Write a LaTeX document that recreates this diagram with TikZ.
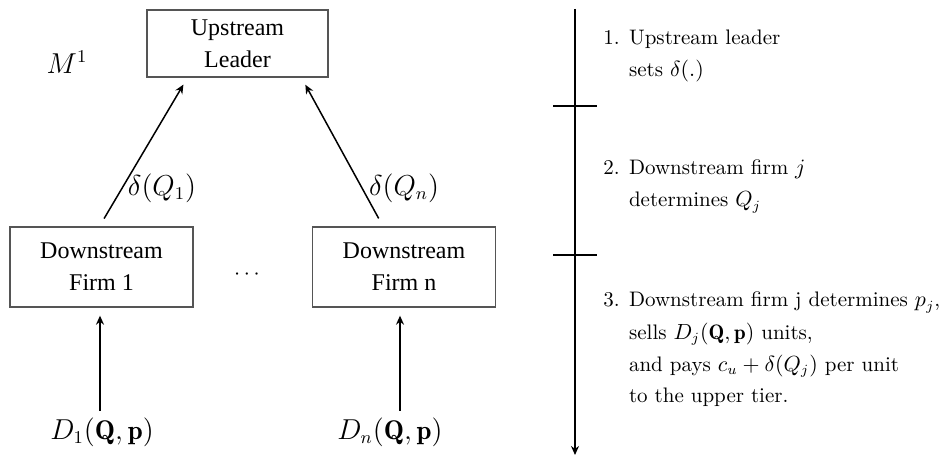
\documentclass[tikz,border=0pt]{standalone}
\usepackage{fontspec}
\newfontfamily\boxfont{Liberation Serif}
\usetikzlibrary{arrows.meta}
\begin{document}
\begin{tikzpicture}[x=0.5pt, y=-0.5pt,
    every node/.style={font=\fontsize{10.5}{16}\selectfont},
    tierbox/.style={draw=boxline, line width=0.7pt, align=center,
        font=\boxfont\fontsize{12}{16}\selectfont,
        minimum width=91.5pt, minimum height=40pt, inner sep=0pt},
    flow/.style={-{Stealth[length=4.5pt,width=4pt]}, line width=0.75pt},
    mathlabel/.style={font=\fontsize{13.5}{16}\selectfont},
    steptext/.style={anchor=base west, align=left, inner sep=0pt}]
    \definecolor{boxline}{RGB}{85,85,85}
    \useasboundingbox (0,0) rectangle (942,459);

    % Two tiers of the market.
    \node[tierbox, minimum width=90.5pt, minimum height=33.5pt] (leader) at (237.5,43.5) {Upstream\\Leader};
    \node[tierbox] (firm1) at (101.5,267) {Downstream\\Firm 1};
    \node[tierbox] (firmn) at (404,267) {Downstream\\Firm n};
    \node (dots) at (247,275) {$\cdots$};
    \node[mathlabel] (model) at (67,62) {$M^1$};

    % Demand of each downstream firm.
    \node[mathlabel] (dem1) at (102,432) {$D_1(\mathbf{Q},\mathbf{p})$};
    \node[mathlabel] (demn) at (390,432) {$D_n(\mathbf{Q},\mathbf{p})$};
    \draw[flow, shorten >=4pt] ([xshift=-1pt]dem1.north) -- ([xshift=-1pt]dem1.north |- firm1.south);
    \draw[flow, shorten >=4pt] ([xshift=5pt]demn.north) -- ([xshift=5pt]demn.north |- firmn.south);

    % Orders sent to the leader.
    \draw[flow, shorten <=4.5pt, shorten >=4pt] ([xshift=-1pt]firm1.north) -- ([xshift=-25pt]leader.south);
    \draw[flow, shorten <=4.5pt, shorten >=4pt] ([xshift=-10.5pt]firmn.north) -- ([xshift=32pt]leader.south);
    \node[mathlabel] (order1) at (162,188) {$\delta(Q_1)$};
    \node[mathlabel] (ordern) at (404,188) {$\delta(Q_n)$};

    % Timeline of the game.
    \coordinate (tltop) at (575,9);
    \coordinate (tlbot) at (575,455);
    \draw[flow] (tltop) -- (tlbot);
    \coordinate (tickal) at (553,106);
    \coordinate (tickar) at (597,106);
    \coordinate (tickbl) at (553,255);
    \coordinate (tickbr) at (597,255);
    \draw[line width=0.75pt] (tickal) -- (tickar);
    \draw[line width=0.75pt] (tickbl) -- (tickbr);

    \node[steptext] (stage1) at (603,77) {1. Upstream leader\\\hphantom{1. }sets $\delta(.)$};
    \node[steptext] (stage2) at (603,207) {2. Downstream firm $j$\\\hphantom{2. }determines $Q_j$};
    \node[steptext] (stage3) at (603,403) {3. Downstream firm j determines $p_j$,\\
        \hphantom{3. }sells $D_j(\mathbf{Q},\mathbf{p})$ units,\\
        \hphantom{3. }and pays $c_u+\delta(Q_j)$ per unit\\
        \hphantom{3. }to the upper tier.};
\end{tikzpicture}
\end{document}
